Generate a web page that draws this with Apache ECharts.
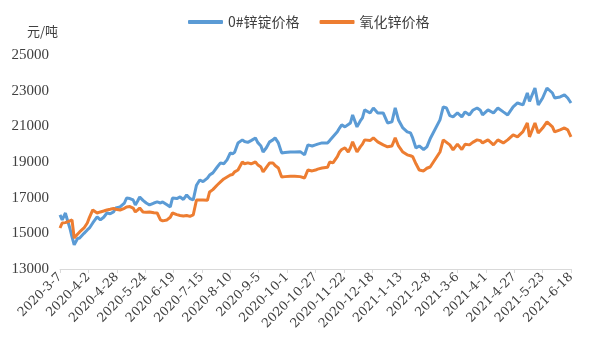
<!DOCTYPE html>
<html>
<head>
<meta charset="utf-8">
<script src="https://cdn.jsdelivr.net/npm/echarts@6/dist/echarts.min.js"></script>
<style>html,body{margin:0;padding:0;background:#fff}#c{width:600px;height:360px}</style>
</head>
<body>
<div id="c"></div>
<script>
const seriesNames = ['0#锌锭价格', '氧化锌价格'];
const axisStart = '2020-03-07';
const axisEnd = '2021-06-18';
const tickStepDays = 26;
const yMin = 13000, yMax = 25000, yStep = 2000;

const dates = [
'2020-03-07','2020-03-09','2020-03-12','2020-03-13','2020-03-16','2020-03-18','2020-03-20','2020-03-23','2020-03-25','2020-03-29',
'2020-04-01','2020-04-03','2020-04-06','2020-04-10','2020-04-13','2020-04-16','2020-04-19','2020-04-22','2020-04-25','2020-04-27',
'2020-05-01','2020-05-05','2020-05-07','2020-05-10','2020-05-13','2020-05-15','2020-05-17','2020-05-19','2020-05-22','2020-05-25','2020-05-28',
'2020-06-01','2020-06-04','2020-06-07','2020-06-09','2020-06-13','2020-06-16','2020-06-18','2020-06-22','2020-06-25','2020-06-28',
'2020-07-01','2020-07-04','2020-07-07','2020-07-10','2020-07-13','2020-07-16','2020-07-20','2020-07-22','2020-07-25','2020-07-29',
'2020-08-01','2020-08-04','2020-08-07','2020-08-10','2020-08-12','2020-08-14','2020-08-17','2020-08-21','2020-08-23','2020-08-26','2020-08-29',
'2020-09-02','2020-09-04','2020-09-07','2020-09-09','2020-09-12','2020-09-15','2020-09-18','2020-09-20','2020-09-23','2020-09-26','2020-09-29',
'2020-10-04','2020-10-08','2020-10-13','2020-10-17','2020-10-20','2020-10-24','2020-10-27','2020-10-29',
'2020-11-02','2020-11-07','2020-11-09','2020-11-12','2020-11-16','2020-11-18','2020-11-20','2020-11-23','2020-11-26','2020-11-28','2020-11-30',
'2020-12-04','2020-12-07','2020-12-09','2020-12-11','2020-12-16','2020-12-19','2020-12-23','2020-12-28',
'2021-01-01','2021-01-05','2021-01-08','2021-01-11','2021-01-15','2021-01-19','2021-01-22','2021-01-24','2021-01-27','2021-01-30',
'2021-02-03','2021-02-06','2021-02-09','2021-02-18','2021-02-21','2021-02-24','2021-02-27',
'2021-03-02','2021-03-06','2021-03-10','2021-03-13','2021-03-17','2021-03-20','2021-03-24','2021-03-27','2021-03-29',
'2021-04-03','2021-04-08','2021-04-12','2021-04-17','2021-04-21','2021-04-26','2021-04-30',
'2021-05-05','2021-05-09','2021-05-11','2021-05-16','2021-05-19','2021-05-23','2021-05-27',
'2021-06-01','2021-06-03','2021-06-08','2021-06-12','2021-06-15','2021-06-18'
];

const ingot = [
16030,15750,16140,15900,15300,14800,14350,14700,14740,15000,
15190,15300,15580,15920,15750,15900,16140,16100,16200,16420,
16480,16700,16980,16950,16870,16590,16800,17040,16850,16700,16590,
16700,16760,16700,16760,16600,16480,16980,16950,17040,16900,
17150,16950,16870,17700,17990,17900,18100,18270,18390,18720,
18950,18900,19120,19510,19450,19560,20070,20240,20150,20100,20200,
20350,20100,19900,19560,19800,20130,20240,20350,20070,19510,19530,
19560,19560,19580,19400,19960,19900,19960,20000,
20070,20070,20200,20410,20690,20900,21080,20970,21100,21190,21640,
20970,21300,21470,21920,21750,22030,21750,21750,
21190,21250,22030,21360,20910,20690,20630,20350,19790,19900,
19700,19850,20300,21360,22090,22030,21600,
21530,21750,21530,21810,21640,21900,22030,21900,21640,
21920,21750,22030,21810,21640,22090,22310,
22200,22870,22400,23150,22200,22590,23150,
22870,22590,22650,22760,22590,22310
];

const oxide = [
15300,15580,15600,15640,15700,15750,14740,14950,15080,15300,
15580,15900,16310,16140,16200,16250,16310,16350,16400,16350,
16310,16400,16480,16500,16420,16200,16300,16420,16200,16180,16200,
16150,16140,15750,15700,15750,15900,16140,16050,16000,15970,
16000,15950,16030,16870,16870,16870,16850,17320,17450,17710,
17880,18050,18160,18270,18300,18450,18550,19000,18900,18950,18900,
19000,18850,18720,18440,18700,18950,18950,18800,18660,18160,18180,
18200,18200,18180,18100,18550,18500,18550,18600,
18660,18700,19000,18950,19300,19560,19700,19790,19560,19800,20130,
19560,19850,20000,20240,20200,20350,20130,19960,
19850,19900,20350,19900,19560,19400,19350,19300,18900,18550,
18500,18650,18720,19560,20240,20100,19960,
19680,20000,19700,20000,19960,20100,20240,20200,20070,
20240,19960,20240,20070,20240,20520,20410,
20700,21190,20410,21190,20630,20900,21250,
20970,20690,20800,20910,20800,20410
];

const DAY = 86400000;
function toUTC(s){const p=s.split('-').map(Number);return Date.UTC(p[0],p[1]-1,p[2]);}
const t0 = toUTC(axisStart);
const totalDays = Math.round((toUTC(axisEnd)-t0)/DAY);
function dayIdx(s){return Math.round((toUTC(s)-t0)/DAY);}
function fmtDay(v){const d=new Date(t0+v*DAY);return d.getUTCFullYear()+'-'+(d.getUTCMonth()+1)+'-'+d.getUTCDate();}

const ingotData = dates.map((d,i)=>[dayIdx(d), ingot[i]]);
const oxideData = dates.map((d,i)=>[dayIdx(d), oxide[i]]);

const chart = echarts.init(document.getElementById('c'), null, {renderer:'canvas'});
chart.setOption({
  animation:false,
  backgroundColor:'#ffffff',
  color:['#5B9BD5','#ED7D31'],
  legend:{
    top:10, left:183,
    itemWidth:35, itemHeight:4, itemGap:20,
    icon:'roundRect',
    textStyle:{fontFamily:'Noto Sans CJK SC', fontSize:14, color:'#404040'},
    data:seriesNames
  },
  grid:{left:60, right:29, top:55, bottom:91, containLabel:false},
  xAxis:{
    type:'value', min:0, max:totalDays, interval:tickStepDays,
    splitLine:{show:false},
    axisLine:{show:true, lineStyle:{color:'#d9d9d9', width:1}},
    axisTick:{show:true, length:4, lineStyle:{color:'#d9d9d9'}},
    axisLabel:{
      rotate:45, margin:6, color:'#404040',
      fontFamily:'DejaVu Serif', fontSize:12.5,
      showMinLabel:true, showMaxLabel:true,
      formatter:function(v){return fmtDay(v);}
    }
  },
  yAxis:{
    type:'value', min:yMin, max:yMax, interval:yStep,
    name:'元/吨', nameLocation:'end', nameGap:24,
    nameTextStyle:{fontFamily:'Noto Sans CJK SC', fontSize:13, color:'#404040', align:'right', verticalAlign:'middle', padding:[0,2,0,0]},
    axisLine:{show:false}, axisTick:{show:false}, splitLine:{show:false},
    axisLabel:{margin:11, color:'#404040', fontFamily:'Liberation Serif', fontSize:15,
      formatter:function(v){return String(v);}}
  },
  series:[
    {name:seriesNames[0], type:'line', data:ingotData, showSymbol:false, symbol:'none', smooth:false,
     lineStyle:{width:3, color:'#5B9BD5'}, itemStyle:{color:'#5B9BD5'}, z:2},
    {name:seriesNames[1], type:'line', data:oxideData, showSymbol:false, symbol:'none', smooth:false,
     lineStyle:{width:3, color:'#ED7D31'}, itemStyle:{color:'#ED7D31'}, z:3}
  ]
});
</script>
</body>
</html>
